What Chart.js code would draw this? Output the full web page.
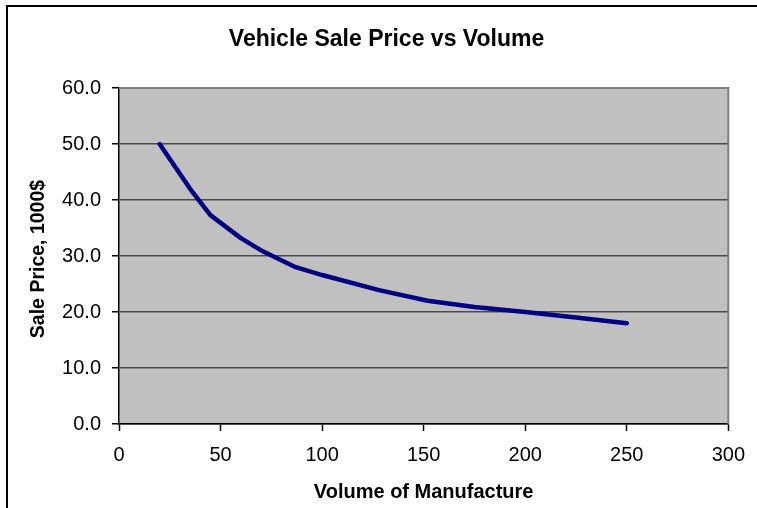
<!DOCTYPE html>
<html>
<head>
<meta charset="utf-8">
<script src="https://cdn.jsdelivr.net/npm/chart.js@4.4.1/dist/chart.umd.min.js"></script>
<style>
  html, body { margin: 0; padding: 0; background: #fff; overflow: hidden; }
  #wrap { position: absolute; left: 0; top: 0; width: 757px; height: 508px; }
  #frame { position: absolute; left: 6px; top: 5px; width: 800px; height: 600px;
           border: 2px solid #000; pointer-events: none; }
</style>
</head>
<body>
<div id="wrap">
  <canvas id="priceChart" width="757" height="508"></canvas>
  <div id="frame"></div>
</div>
<script>
// Vehicle sale price vs manufacture volume
const volume = [20, 35, 45, 60, 70, 87, 100, 128, 152, 175, 200, 225, 250];
const salePrice = [50.0, 42.0, 37.3, 33.2, 31.0, 28.0, 26.6, 23.9, 22.0, 20.9, 20.0, 19.0, 18.0];
const xTicks = [0, 50, 100, 150, 200, 250, 300];
const yTicks = [0, 10, 20, 30, 40, 50, 60];

const chartTitle = 'Vehicle Sale Price vs Volume';
const xTitle = 'Volume of Manufacture';
const yTitle = 'Sale Price, 1000$';

const FONT = "'Liberation Sans', Arial, sans-serif";

// grey plot area + titles drawn by hand (Excel look)
const excelLook = {
  id: 'excelLook',
  beforeDraw(chart) {
    const { ctx, chartArea: a } = chart;
    ctx.save();
    ctx.fillStyle = '#c0c0c0';
    ctx.fillRect(a.left, a.top, a.right - a.left, a.bottom - a.top);
    ctx.restore();
  },
  beforeDatasetsDraw(chart) {
    const { ctx, chartArea: a } = chart;
    ctx.save();
    ctx.strokeStyle = '#808080';
    ctx.lineWidth = 2;
    ctx.beginPath();
    ctx.moveTo(a.left, a.top);
    ctx.lineTo(a.right, a.top);
    ctx.lineTo(a.right, a.bottom);
    ctx.stroke();
    ctx.restore();
  },
  afterDraw(chart) {
    const { ctx, chartArea: a } = chart;
    ctx.save();
    ctx.fillStyle = '#000';
    ctx.textAlign = 'center';
    ctx.textBaseline = 'middle';
    ctx.font = 'bold 23px ' + FONT;
    ctx.fillText(chartTitle, chart.width / 2 + 8, 40);
    ctx.font = 'bold 20px ' + FONT;
    ctx.fillText(xTitle, (a.left + a.right) / 2, 492);
    ctx.font = 'bold 19.5px ' + FONT;
    ctx.translate(39, (a.top + a.bottom) / 2 + 3);
    ctx.rotate(-Math.PI / 2);
    ctx.fillText(yTitle, 0, 0);
    ctx.restore();
  }
};

new Chart(document.getElementById('priceChart'), {
  type: 'scatter',
  data: {
    datasets: [{
      label: 'Sale Price',
      data: volume.map((v, i) => ({ x: v, y: salePrice[i] })),
      showLine: true,
      borderColor: '#000080',
      borderWidth: 4.5,
      borderCapStyle: 'round',
      borderJoinStyle: 'round',
      pointRadius: 0,
      tension: 0
    }]
  },
  options: {
    responsive: false,
    animation: false,
    layout: { padding: { top: 88, right: 27, left: 0, bottom: 0 } },
    plugins: {
      legend: { display: false },
      tooltip: { enabled: false }
    },
    scales: {
      x: {
        type: 'linear',
        min: xTicks[0],
        max: xTicks[xTicks.length - 1],
        afterFit: s => { s.height = 84; },
        afterBuildTicks: s => { s.ticks = xTicks.map(v => ({ value: v })); },
        grid: { drawOnChartArea: false, drawTicks: true, tickLength: 7, tickColor: '#000', tickWidth: 1.5 },
        border: { color: '#000', width: 1.5 },
        ticks: { color: '#000', padding: 12, maxRotation: 0, font: { family: FONT, size: 20 } }
      },
      y: {
        min: yTicks[0],
        max: yTicks[yTicks.length - 1],
        afterFit: s => { s.width = 119; },
        afterBuildTicks: s => { s.ticks = yTicks.map(v => ({ value: v })); },
        grid: { color: '#4a4a4a', lineWidth: 1.5, drawTicks: true, tickLength: 7, tickColor: '#000', tickWidth: 1.5 },
        border: { color: '#000', width: 1.5 },
        ticks: {
          color: '#000',
          padding: 11,
          font: { family: FONT, size: 20 },
          callback: v => v.toFixed(1)
        }
      }
    }
  },
  plugins: [excelLook]
});
</script>
</body>
</html>
